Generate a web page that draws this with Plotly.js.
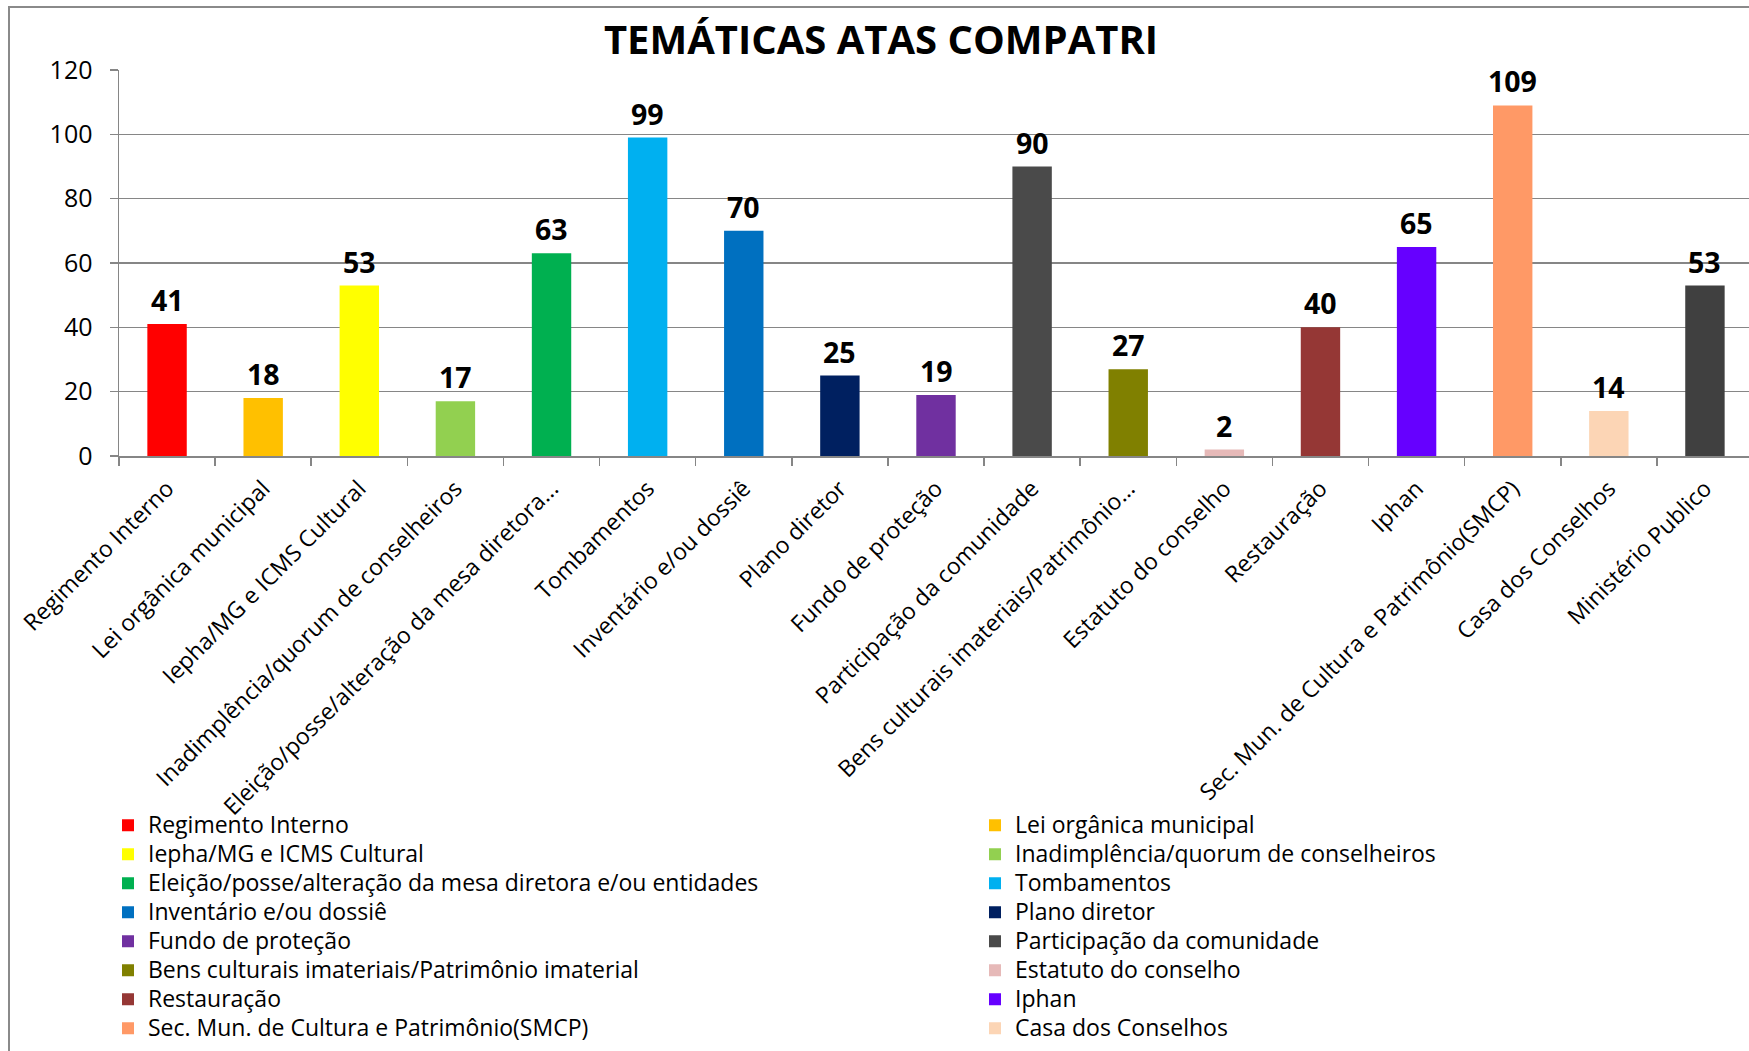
<!DOCTYPE html>
<html>
<head>
<meta charset="utf-8">
<script src="https://cdn.plot.ly/plotly-3.0.1.min.js"></script>
<style>
html,body{margin:0;padding:0;overflow:hidden;background:#fff;width:1749px;height:1051px;}
#chart{position:absolute;left:0;top:0;}
#frame{position:absolute;left:8px;top:6px;width:3000px;height:3000px;border:2px solid #8a8a8a;pointer-events:none;}
</style>
</head>
<body>
<div id="chart"></div>
<div id="frame"></div>
<script>
const categories = [
  "Regimento Interno",
  "Lei orgânica municipal",
  "Iepha/MG e ICMS Cultural",
  "Inadimplência/quorum de conselheiros",
  "Eleição/posse/alteração da mesa diretora e/ou entidades",
  "Tombamentos",
  "Inventário e/ou dossiê",
  "Plano diretor",
  "Fundo de proteção",
  "Participação da comunidade",
  "Bens culturais imateriais/Patrimônio imaterial",
  "Estatuto do conselho",
  "Restauração",
  "Iphan",
  "Sec. Mun. de Cultura e Patrimônio(SMCP)",
  "Casa dos Conselhos",
  "Ministério Publico"
];
const tickLabels = [
  "Regimento Interno",
  "Lei orgânica municipal",
  "Iepha/MG e ICMS Cultural",
  "Inadimplência/quorum de conselheiros",
  "Eleição/posse/alteração da mesa diretora...",
  "Tombamentos",
  "Inventário e/ou dossiê",
  "Plano diretor",
  "Fundo de proteção",
  "Participação da comunidade",
  "Bens culturais imateriais/Patrimônio...",
  "Estatuto do conselho",
  "Restauração",
  "Iphan",
  "Sec. Mun. de Cultura e Patrimônio(SMCP)",
  "Casa dos Conselhos",
  "Ministério Publico"
];
const values = [41, 18, 53, 17, 63, 99, 70, 25, 19, 90, 27, 2, 40, 65, 109, 14, 53];
const colors = ["#FF0000","#FFC000","#FFFF00","#92D050","#00B050","#00B0F0","#0070C0","#002060",
                "#7030A0","#4A4A4A","#808000","#E6B9B8","#953735","#6600FF","#FF9966","#FCD5B5","#404040"];
const inLegend = [true,true,true,true,true,true,true,true,true,true,true,true,true,true,true,true,false];

const FONT = "'Open Sans', 'Liberation Sans', sans-serif";
const GRAY = "#868686";

const traces = categories.map((c, i) => ({
  type: "bar",
  x: [c],
  y: [values[i]],
  name: '<span style="font-size:23px">' + c + '</span>',
  width: 0.41,
  marker: {color: colors[i]},
  showlegend: inLegend[i],
  hoverinfo: "x+y"
}));

const annotations = categories.map((c, i) => ({
  x: c, y: values[i], xref: "x", yref: "y",
  text: String(values[i]),
  showarrow: false, yanchor: "bottom", yshift: 3,
  font: {family: FONT, size: 28.5, color: "#000", weight: "bold"}
}));

const layout = {
  width: 1900, height: 1051,
  margin: {l: 119, r: 147, t: 70, b: 595, pad: 0, autoexpand: false},
  paper_bgcolor: "#fff", plot_bgcolor: "#fff",
  font: {family: FONT, color: "#000"},
  title: {
    text: "<b>TEMÁTICAS ATAS COMPATRI</b>",
    x: 881 / 1900, xanchor: "center", xref: "container",
    y: 1 - 40 / 1051, yanchor: "middle", yref: "container",
    font: {family: FONT, size: 40, color: "#000"}
  },
  barmode: "overlay",
  xaxis: {
    type: "category",
    tickmode: "array",
    tickvals: categories,
    ticktext: tickLabels,
    tickangle: -45,
    tickson: "boundaries",
    ticks: "outside", ticklen: 8, tickcolor: GRAY, tickwidth: 1.5,
    showline: true, linecolor: GRAY, linewidth: 2,
    showgrid: false,
    automargin: false,
    tickfont: {family: FONT, size: 23, color: "#000"},
    ticklabelstandoff: 8,
    fixedrange: true
  },
  yaxis: {
    range: [0, 120], dtick: 20, tick0: 0,
    ticks: "outside", ticklen: 8, tickcolor: GRAY, tickwidth: 1.5,
    showline: true, linecolor: GRAY, linewidth: 1.5,
    showgrid: true, gridcolor: GRAY, gridwidth: 1.6,
    zeroline: false,
    automargin: false,
    tickfont: {family: FONT, size: 25, color: "#000"},
    ticklabelstandoff: 12,
    fixedrange: true
  },
  showlegend: true,
  legend: {
    orientation: "h",
    x: (108 - 119) / 1634, xanchor: "left",
    y: -0.906, yanchor: "top",
    entrywidth: 822, entrywidthmode: "pixels",
    font: {family: FONT, size: 20, color: "#000"},
    bgcolor: "rgba(0,0,0,0)",
    traceorder: "normal"
  },
  annotations: annotations
};

Plotly.newPlot("chart", traces, layout, {displayModeBar: false, staticPlot: true});
</script>
</body>
</html>
